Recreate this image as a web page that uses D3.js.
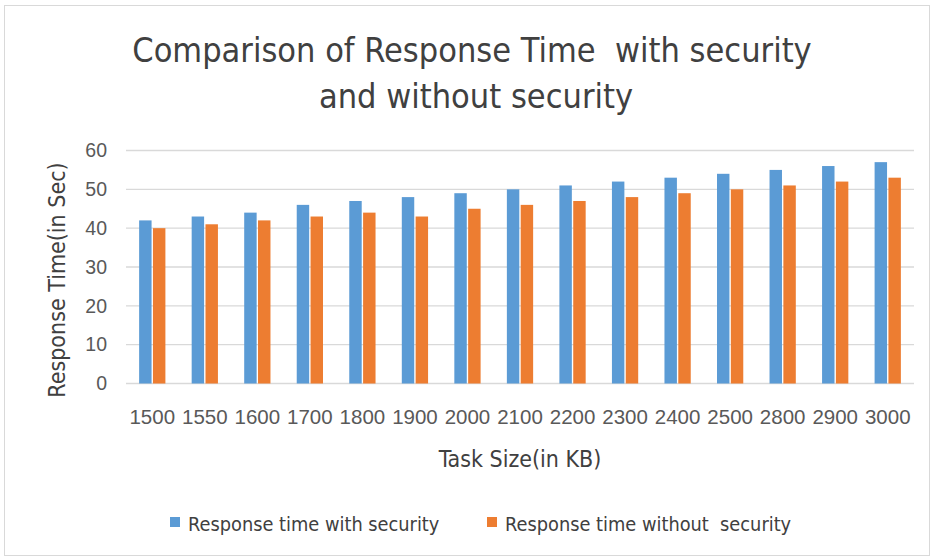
<!DOCTYPE html>
<html>
    <head>
        <meta charset="utf-8">
        <title>Response Time Comparison</title>
        <script src="https://d3js.org/d3.v7.min.js"></script>
        <style>
            body { margin: 0; background: #fff; }
            text { font-family: "Liberation Sans Narrow", "DejaVu Sans Condensed", sans-serif; }
        </style>
    </head>
    <body>
        <svg class="chart" width="934" height="559"></svg>

        <script>
            // Data
            const taskSizes = ["1500", "1550", "1600", "1700", "1800", "1900", "2000", "2100",
                               "2200", "2300", "2400", "2500", "2800", "2900", "3000"]
            const withSecurity = [42, 43, 44, 46, 47, 48, 49, 50, 51, 52, 53, 54, 55, 56, 57]
            const withoutSecurity = [40, 41, 42, 43, 44, 43, 45, 46, 47, 48, 49, 50, 51, 52, 53]
            const seriesNames = ["Response time with security", "Response time without  security"]
            const yTicks = [0, 10, 20, 30, 40, 50, 60]

            const colors = ["#5b9bd5", "#ed7d31"]

            const svg = d3.select("svg.chart")

            // outer chart frame
            svg.append("rect")
                .attr("x", 4.5).attr("y", 5.5)
                .attr("width", 925).attr("height", 550)
                .attr("fill", "#fff")
                .attr("stroke", "#d9d9d9")

            // plot area
            const plotLeft = 126, plotRight = 914, plotTop = 150.5, plotBottom = 383.5

            const x0 = d3.scaleBand()
                .domain(taskSizes)
                .range([plotLeft, plotRight])
                .paddingInner(0.5)
                .paddingOuter(0.25)

            const x1 = d3.scaleBand()
                .domain([0, 1])
                .range([0, x0.bandwidth()])
                .paddingInner(0.1)

            const y = d3.scaleLinear()
                .domain([0, 60])
                .range([plotBottom, plotTop])

            // gridlines
            svg.append("g")
                .selectAll("line")
                .data(yTicks)
                .enter()
                .append("line")
                    .attr("x1", plotLeft).attr("x2", plotRight)
                    .attr("y1", d => y(d)).attr("y2", d => y(d))
                    .attr("stroke", "#d9d9d9")
                    .attr("stroke-width", 1.3)

            // y axis labels
            const yAxis = svg.append("g")
                .attr("transform", "translate(" + (plotLeft - 6) + ",0)")
                .call(d3.axisLeft(y).tickValues(yTicks).tickSize(0).tickPadding(13))
            yAxis.select(".domain").remove()
            yAxis.selectAll("text")
                .attr("font-size", 19.5)
                .attr("fill", "#595959")
                .style("font-family", "inherit")

            // x axis labels
            const xAxis = svg.append("g")
                .attr("transform", "translate(0," + plotBottom + ")")
                .call(d3.axisBottom(x0).tickSize(0).tickPadding(26))
            xAxis.select(".domain").remove()
            xAxis.selectAll("text")
                .attr("font-size", 20.5)
                .attr("fill", "#595959")
                .style("font-family", "inherit")

            // bars
            const rows = taskSizes.map((t, i) => ({ t: t, vals: [withSecurity[i], withoutSecurity[i]] }))

            svg.append("g")
                .selectAll("g")
                .data(rows)
                .enter()
                .append("g")
                    .attr("transform", d => "translate(" + x0(d.t) + ",0)")
                .selectAll("rect")
                .data(d => d.vals.map((v, k) => ({ k: k, v: v })))
                .enter()
                .append("rect")
                    .attr("x", d => x1(d.k))
                    .attr("y", d => y(d.v))
                    .attr("width", x1.bandwidth())
                    .attr("height", d => y(0) - y(d.v))
                    .attr("fill", d => colors[d.k])

            // title
            svg.append("text")
                .attr("x", 472).attr("y", 62)
                .attr("text-anchor", "middle")
                .attr("font-size", 34)
                .attr("fill", "#404040")
                .style("white-space", "pre")
                .text("Comparison of Response Time  with security")
            svg.append("text")
                .attr("x", 476).attr("y", 108)
                .attr("text-anchor", "middle")
                .attr("font-size", 34)
                .attr("fill", "#404040")
                .text("and without security")

            // axis titles
            svg.append("text")
                .attr("transform", "translate(65," + ((plotTop + plotBottom) / 2 + 13) + ") rotate(-90)")
                .attr("text-anchor", "middle")
                .attr("font-size", 23)
                .attr("fill", "#404040")
                .text("Response Time(in Sec)")

            svg.append("text")
                .attr("x", 520).attr("y", 467)
                .attr("text-anchor", "middle")
                .attr("font-size", 23)
                .attr("fill", "#404040")
                .text("Task Size(in KB)")

            // legend
            const legendX = [170, 487]
            const legend = svg.append("g")
                .selectAll("g")
                .data(seriesNames)
                .enter()
                .append("g")
                    .attr("transform", (d, i) => "translate(" + legendX[i] + ",517)")
            legend.append("rect")
                .attr("width", 10).attr("height", 10)
                .attr("fill", (d, i) => colors[i])
            legend.append("text")
                .attr("x", 18).attr("y", 14)
                .attr("font-size", 19.8)
                .attr("fill", "#404040")
                .style("white-space", "pre")
                .text(d => d)
        </script>
    </body>
</html>
